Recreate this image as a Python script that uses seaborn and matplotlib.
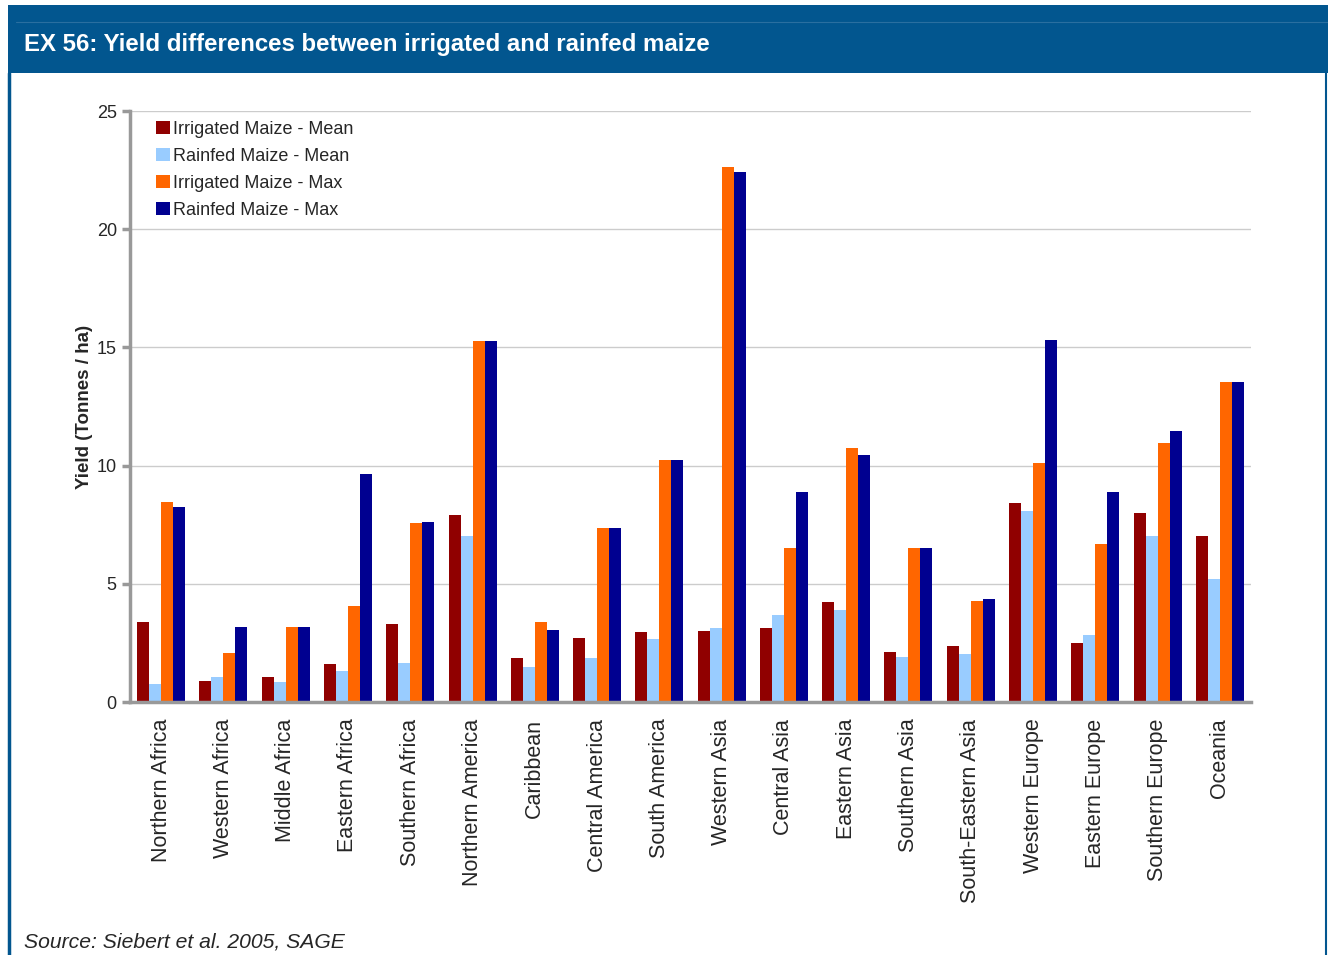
import numpy as np
import pandas as pd
import matplotlib.pyplot as plt
import seaborn as sns
from matplotlib.patches import Rectangle
from matplotlib.lines import Line2D

regions = ["Northern Africa", "Western Africa", "Middle Africa", "Eastern Africa",
           "Southern Africa", "Northern America", "Caribbean", "Central America",
           "South America", "Western Asia", "Central Asia", "Eastern Asia",
           "Southern Asia", "South-Eastern Asia", "Western Europe", "Eastern Europe",
           "Southern Europe", "Oceania"]

irrigated_mean = [3.38, 0.89, 1.06, 1.60, 3.30, 7.93, 1.86, 2.71, 2.97, 3.02,
                  3.13, 4.24, 2.11, 2.36, 8.40, 2.49, 7.98, 7.03]
rainfed_mean = [0.76, 1.06, 0.85, 1.31, 1.65, 7.04, 1.49, 1.86, 2.66, 3.13,
                3.69, 3.90, 1.90, 2.02, 8.07, 2.83, 7.03, 5.21]
irrigated_max = [8.46, 2.07, 3.17, 4.06, 7.57, 15.26, 3.38, 7.37, 10.25, 22.64,
                 6.53, 10.73, 6.52, 4.27, 10.09, 6.69, 10.94, 13.53]
rainfed_max = [8.25, 3.17, 3.17, 9.64, 7.61, 15.26, 3.05, 7.37, 10.25, 22.42,
               8.90, 10.43, 6.52, 4.36, 15.31, 8.90, 11.45, 13.53]

series = ["Irrigated Maize - Mean", "Rainfed Maize - Mean",
          "Irrigated Maize - Max", "Rainfed Maize - Max"]
colors = ["#900000", "#99CCFF", "#FF6600", "#000090"]

df = pd.DataFrame({"region": regions,
                   series[0]: irrigated_mean, series[1]: rainfed_mean,
                   series[2]: irrigated_max, series[3]: rainfed_max})
long = df.melt(id_vars="region", var_name="series", value_name="yield")

sns.set_style("white")
plt.rcParams['font.family'] = ['Liberation Sans', 'DejaVu Sans']

W, H = 1328, 955
fig = plt.figure(figsize=(W / 100, H / 100), dpi=100)

# header band and frame
blue = "#02568F"
fig.patches.append(Rectangle((8 / W, 1 - 73 / H), 1, 68 / H, transform=fig.transFigure,
                             facecolor=blue, edgecolor="none", zorder=0))
fig.add_artist(Line2D([16 / W, 1], [1 - 22 / H] * 2, transform=fig.transFigure,
                      color="#2A6FA0", lw=0.8))
fig.add_artist(Line2D([9 / W] * 2, [0, 1 - 73 / H], transform=fig.transFigure,
                      color=blue, lw=2.5))
fig.add_artist(Line2D([1326 / W] * 2, [0, 1 - 73 / H], transform=fig.transFigure,
                      color=blue, lw=1.5))
fig.text(24 / W, 1 - 45 / H, "EX 56: Yield differences between irrigated and rainfed maize",
         color="white", fontsize=17.3, fontweight="bold", va="center", ha="left")

ax = fig.add_axes([130 / W, 1 - 702 / H, (1251 - 130) / W, (702 - 111) / H])
sns.barplot(data=long, x="region", y="yield", hue="series", hue_order=series,
            palette=colors, width=0.77, gap=0, saturation=1, ax=ax, errorbar=None,
            edgecolor="none", linewidth=0)

ax.set_ylim(0, 25)
ax.set_xlim(-0.5, len(regions) - 0.5)
ax.set_yticks([0, 5, 10, 15, 20, 25])
ax.yaxis.grid(True, color="#CCCCCC", lw=1)
ax.set_axisbelow(True)
for s in ["top", "right"]:
    ax.spines[s].set_visible(False)
for s in ["left", "bottom"]:
    ax.spines[s].set_color("#999999")
    ax.spines[s].set_linewidth(2.5)

ax.set_xticks(range(len(regions)))
ax.set_xticklabels(regions, rotation=90, fontsize=15.5)
ax.set_xticks(np.arange(-0.5, len(regions), 1), minor=True)
ax.tick_params(axis="x", which="major", length=0, pad=12)
ax.tick_params(axis="x", which="minor", length=6, width=2.5, color="#999999", direction="out")
ax.tick_params(axis="y", length=6, width=2.5, color="#999999", direction="out",
               labelsize=13, left=True)
ax.set_xlabel("")
ax.set_ylabel("Yield (Tonnes / ha)", fontsize=13.5, fontweight="bold", labelpad=3)

leg = ax.legend(loc="upper left", bbox_to_anchor=(0.017, 0.995), frameon=False,
                fontsize=13, handlelength=0.75, handleheight=0.75,
                handletextpad=0.2, labelspacing=0.55, borderaxespad=0)

fig.text(24 / W, 1 - 942 / H, "Source: Siebert et al. 2005, SAGE", fontsize=15.2,
         fontstyle="italic", va="center", ha="left")

fig.savefig("out.png", dpi=100, facecolor="white")
